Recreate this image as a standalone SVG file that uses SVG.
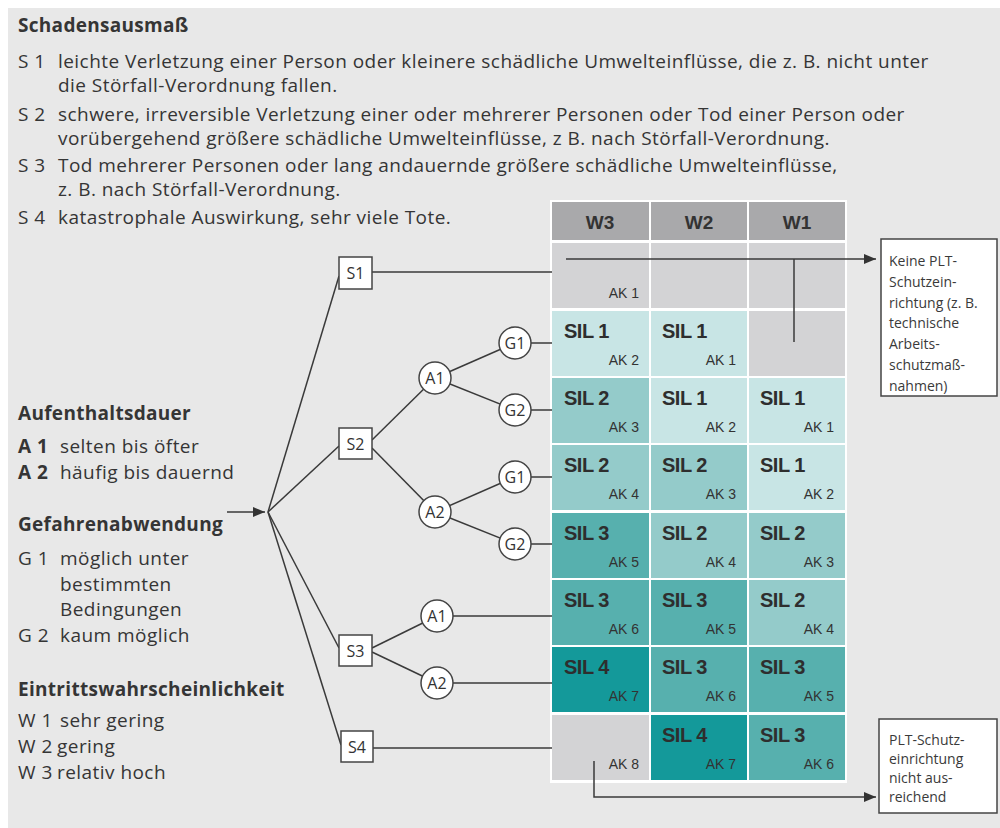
<svg xmlns="http://www.w3.org/2000/svg" width="1000" height="828" viewBox="0 0 1000 828">
<defs>
<marker id="arr" viewBox="0 0 12 10" refX="12" refY="5" markerWidth="12" markerHeight="10" markerUnits="userSpaceOnUse" orient="auto">
<path d="M0,0 L12,5 L0,10 Z" fill="#333"/>
</marker>
<style>
.t{font-family:"Open Sans","Liberation Sans",sans-serif;font-size:19px;letter-spacing:0.45px;fill:#353535}
.h{font-family:"Open Sans","Liberation Sans",sans-serif;font-size:19px;letter-spacing:0.3px;font-weight:bold;fill:#353535}
.b{font-weight:bold}
.hd{font-family:"Liberation Sans",sans-serif;font-size:19px;font-weight:bold;fill:#333;text-anchor:middle}
.sil{font-family:"Liberation Sans",sans-serif;font-size:20px;font-weight:bold;fill:#2e2e2e;letter-spacing:-0.5px}
.ak{font-family:"Liberation Sans",sans-serif;font-size:14px;fill:#333;text-anchor:end}
.g{fill:#d3d3d5}
.s1{fill:#c8e5e5}
.s2{fill:#94cbca}
.s3{fill:#57b0ae}
.s4{fill:#14999a}
.ln{stroke:#3a3a3a;stroke-width:1.5;fill:none}
.nd{fill:#fff;stroke:#444;stroke-width:1.5}
.nt{font-family:"Open Sans","Liberation Sans",sans-serif;font-size:16px;fill:#333;text-anchor:middle}
.bx{fill:#fff;stroke:#444;stroke-width:1.5}
.bt{font-family:"Open Sans","Liberation Sans",sans-serif;font-size:14px;fill:#3a3a3a}
</style>
</defs>
<rect x="8" y="8" width="992" height="820" fill="#e8e8e8"/>

<g id="legend">
<text class="h" x="18" y="32">Schadensausmaß</text>
<text class="t" x="18" y="68">S 1</text><text class="t" x="58" y="68">leichte Verletzung einer Person oder kleinere schädliche Umwelteinflüsse, die z. B. nicht unter</text>
<text class="t" x="58" y="92">die Störfall-Verordnung fallen.</text>
<text class="t" x="18" y="121">S 2</text><text class="t" x="58" y="121">schwere, irreversible Verletzung einer oder mehrerer Personen oder Tod einer Person oder</text>
<text class="t" x="58" y="145">vorübergehend größere schädliche Umwelteinflüsse, z B. nach Störfall-Verordnung.</text>
<text class="t" x="18" y="172">S 3</text><text class="t" x="58" y="172">Tod mehrerer Personen oder lang andauernde größere schädliche Umwelteinflüsse,</text>
<text class="t" x="58" y="196">z. B. nach Störfall-Verordnung.</text>
<text class="t" x="18" y="224">S 4</text><text class="t" x="58" y="224">katastrophale Auswirkung, sehr viele Tote.</text>

<text class="h" x="18" y="420">Aufenthaltsdauer</text>
<text class="t b" x="18" y="453">A 1</text><text class="t" x="60" y="453">selten bis öfter</text>
<text class="t b" x="18" y="479">A 2</text><text class="t" x="60" y="479">häufig bis dauernd</text>
<text class="h" x="18" y="531">Gefahrenabwendung</text>
<text class="t" x="18" y="565">G 1</text><text class="t" x="60" y="565">möglich unter</text>
<text class="t" x="60" y="591">bestimmten</text>
<text class="t" x="60" y="616">Bedingungen</text>
<text class="t" x="18" y="642">G 2</text><text class="t" x="60" y="642">kaum möglich</text>
<text class="h" x="18" y="696">Eintrittswahrscheinlichkeit</text>
<text class="t" x="18" y="727">W 1</text><text class="t" x="60" y="727">sehr gering</text>
<text class="t" x="18" y="753">W 2</text><text class="t" x="57" y="753">gering</text>
<text class="t" x="18" y="779">W 3</text><text class="t" x="57" y="779">relativ hoch</text>
</g>

<g id="grid">
<rect x="550" y="200" width="297" height="583" fill="#fff"/>
<rect x="552" y="202" width="97" height="38" fill="#a9a9ab"/>
<rect x="651" y="202" width="96" height="38" fill="#a9a9ab"/>
<rect x="749" y="202" width="96" height="38" fill="#a9a9ab"/>
<text class="hd" x="600" y="229">W3</text>
<text class="hd" x="699" y="229">W2</text>
<text class="hd" x="797" y="229">W1</text>

<rect class="g" x="552" y="243" width="97" height="65"/>
<rect class="g" x="651" y="243" width="96" height="65"/>
<rect class="g" x="749" y="243" width="96" height="65"/>
<text class="ak" x="639" y="298">AK 1</text>

<rect class="s1" x="552" y="311" width="97" height="65"/>
<rect class="s1" x="651" y="311" width="96" height="65"/>
<rect class="g" x="749" y="311" width="96" height="65"/>
<text class="sil" x="564" y="338">SIL 1</text><text class="ak" x="639" y="365">AK 2</text>
<text class="sil" x="662" y="338">SIL 1</text><text class="ak" x="736" y="365">AK 1</text>

<rect class="s2" x="552" y="378" width="97" height="65"/>
<rect class="s1" x="651" y="378" width="96" height="65"/>
<rect class="s1" x="749" y="378" width="96" height="65"/>
<text class="sil" x="564" y="405">SIL 2</text><text class="ak" x="639" y="432">AK 3</text>
<text class="sil" x="662" y="405">SIL 1</text><text class="ak" x="736" y="432">AK 2</text>
<text class="sil" x="760" y="405">SIL 1</text><text class="ak" x="834" y="432">AK 1</text>

<rect class="s2" x="552" y="445" width="97" height="65"/>
<rect class="s2" x="651" y="445" width="96" height="65"/>
<rect class="s1" x="749" y="445" width="96" height="65"/>
<text class="sil" x="564" y="472">SIL 2</text><text class="ak" x="639" y="499">AK 4</text>
<text class="sil" x="662" y="472">SIL 2</text><text class="ak" x="736" y="499">AK 3</text>
<text class="sil" x="760" y="472">SIL 1</text><text class="ak" x="834" y="499">AK 2</text>

<rect class="s3" x="552" y="513" width="97" height="65"/>
<rect class="s2" x="651" y="513" width="96" height="65"/>
<rect class="s2" x="749" y="513" width="96" height="65"/>
<text class="sil" x="564" y="540">SIL 3</text><text class="ak" x="639" y="567">AK 5</text>
<text class="sil" x="662" y="540">SIL 2</text><text class="ak" x="736" y="567">AK 4</text>
<text class="sil" x="760" y="540">SIL 2</text><text class="ak" x="834" y="567">AK 3</text>

<rect class="s3" x="552" y="580" width="97" height="65"/>
<rect class="s3" x="651" y="580" width="96" height="65"/>
<rect class="s2" x="749" y="580" width="96" height="65"/>
<text class="sil" x="564" y="607">SIL 3</text><text class="ak" x="639" y="634">AK 6</text>
<text class="sil" x="662" y="607">SIL 3</text><text class="ak" x="736" y="634">AK 5</text>
<text class="sil" x="760" y="607">SIL 2</text><text class="ak" x="834" y="634">AK 4</text>

<rect class="s4" x="552" y="647" width="97" height="65"/>
<rect class="s3" x="651" y="647" width="96" height="65"/>
<rect class="s3" x="749" y="647" width="96" height="65"/>
<text class="sil" x="564" y="674">SIL 4</text><text class="ak" x="639" y="701">AK 7</text>
<text class="sil" x="662" y="674">SIL 3</text><text class="ak" x="736" y="701">AK 6</text>
<text class="sil" x="760" y="674">SIL 3</text><text class="ak" x="834" y="701">AK 5</text>

<rect class="g" x="552" y="715" width="97" height="65"/>
<rect class="s4" x="651" y="715" width="96" height="65"/>
<rect class="s3" x="749" y="715" width="96" height="65"/>
<text class="ak" x="639" y="769">AK 8</text>
<text class="sil" x="662" y="742">SIL 4</text><text class="ak" x="736" y="769">AK 7</text>
<text class="sil" x="760" y="742">SIL 3</text><text class="ak" x="834" y="769">AK 6</text>
</g>

<g id="connectors">
<line class="ln" x1="227" y1="512" x2="265" y2="512" marker-end="url(#arr)"/>
<line class="ln" x1="268" y1="512" x2="339" y2="276"/>
<line class="ln" x1="268" y1="512" x2="339" y2="446"/>
<line class="ln" x1="268" y1="512" x2="339" y2="648"/>
<line class="ln" x1="268" y1="512" x2="341" y2="745"/>
<line class="ln" x1="372" y1="272" x2="552" y2="272"/>
<line class="ln" x1="372" y1="440" x2="435" y2="378"/>
<line class="ln" x1="372" y1="448" x2="435" y2="512"/>
<line class="ln" x1="435" y1="378" x2="515" y2="343"/>
<line class="ln" x1="435" y1="378" x2="515" y2="410"/>
<line class="ln" x1="435" y1="512" x2="515" y2="477"/>
<line class="ln" x1="435" y1="512" x2="515" y2="544"/>
<line class="ln" x1="515" y1="343" x2="552" y2="343"/>
<line class="ln" x1="515" y1="410" x2="552" y2="410"/>
<line class="ln" x1="515" y1="477" x2="552" y2="477"/>
<line class="ln" x1="515" y1="544" x2="552" y2="544"/>
<line class="ln" x1="372" y1="648" x2="437" y2="616"/>
<line class="ln" x1="372" y1="652" x2="437" y2="683"/>
<line class="ln" x1="437" y1="616" x2="552" y2="616"/>
<line class="ln" x1="437" y1="683" x2="552" y2="683"/>
<line class="ln" x1="373" y1="748" x2="552" y2="748"/>
<line class="ln" x1="566" y1="259" x2="876" y2="259" marker-end="url(#arr)"/>
<line class="ln" x1="794" y1="259" x2="794" y2="342"/>
<polyline class="ln" points="594,761 594,797 876,797" marker-end="url(#arr)"/>
</g>

<g id="S1"><rect class="bx" x="339" y="257" width="33" height="32"/><text class="nt" x="355.5" y="279">S1</text></g>
<g id="S2"><rect class="bx" x="339" y="428" width="33" height="31"/><text class="nt" x="355.5" y="450">S2</text></g>
<g id="S3"><rect class="bx" x="339" y="635" width="33" height="31"/><text class="nt" x="355.5" y="657">S3</text></g>
<g id="S4"><rect class="bx" x="341" y="731" width="32" height="31"/><text class="nt" x="357" y="753">S4</text></g>
<g id="A1a"><circle class="nd" cx="435" cy="378" r="16"/><text class="nt" x="435" y="384">A1</text></g>
<g id="A2a"><circle class="nd" cx="435" cy="512" r="16"/><text class="nt" x="435" y="518">A2</text></g>
<g id="G1a"><circle class="nd" cx="515" cy="343" r="16"/><text class="nt" x="515" y="349">G1</text></g>
<g id="G2a"><circle class="nd" cx="515" cy="410" r="16"/><text class="nt" x="515" y="416">G2</text></g>
<g id="G1b"><circle class="nd" cx="515" cy="477" r="16"/><text class="nt" x="515" y="483">G1</text></g>
<g id="G2b"><circle class="nd" cx="515" cy="544" r="16"/><text class="nt" x="515" y="550">G2</text></g>
<g id="A1b"><circle class="nd" cx="437" cy="616" r="16"/><text class="nt" x="437" y="622">A1</text></g>
<g id="A2b"><circle class="nd" cx="437" cy="683" r="16"/><text class="nt" x="437" y="689">A2</text></g>

<g id="box-keine">
<rect class="bx" x="881" y="239" width="116" height="157"/>
<text class="bt" x="889" y="266">Keine PLT-</text>
<text class="bt" x="889" y="287">Schutzein-</text>
<text class="bt" x="889" y="308">richtung (z. B.</text>
<text class="bt" x="889" y="328">technische</text>
<text class="bt" x="889" y="349">Arbeits-</text>
<text class="bt" x="889" y="370">schutzmaß-</text>
<text class="bt" x="889" y="391">nahmen)</text>
</g>
<g id="box-nicht">
<rect class="bx" x="879" y="719" width="118" height="94"/>
<text class="bt" x="889" y="745">PLT-Schutz-</text>
<text class="bt" x="889" y="764">einrichtung</text>
<text class="bt" x="889" y="783">nicht aus-</text>
<text class="bt" x="889" y="802">reichend</text>
</g>
</svg>
